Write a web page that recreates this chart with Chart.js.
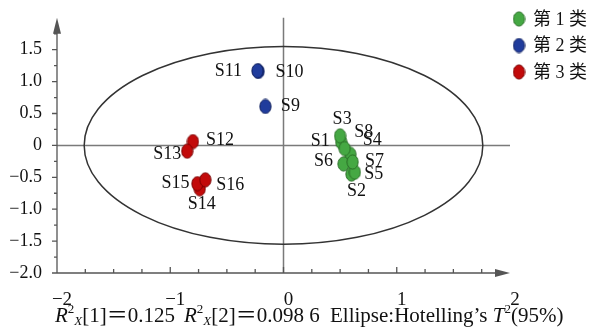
<!DOCTYPE html>
<html>
<head>
<meta charset="utf-8">
<script src="https://cdn.jsdelivr.net/npm/chart.js@4"></script>
<style>
  html, body { margin: 0; padding: 0; background: #fff; }
  #wrap { width: 601px; height: 329px; }
</style>
</head>
<body>
<div id="wrap"><canvas id="pca" width="601" height="329"></canvas></div>
<script>
// score values
const g1Names = ['S1', 'S2', 'S3', 'S4', 'S5', 'S6', 'S7', 'S8'];
const g1X = [0.51, 0.60, 0.50, 0.59, 0.63, 0.53, 0.61, 0.54];
const g1Y = [0.05, -0.45, 0.15, -0.14, -0.42, -0.29, -0.26, -0.05];

const g2Names = ['S9', 'S10', 'S11'];
const g2X = [-0.16, -0.22, -0.23];
const g2Y = [0.61, 1.16, 1.17];

const g3Names = ['S12', 'S13', 'S14', 'S15', 'S16'];
const g3X = [-0.80, -0.85, -0.74, -0.76, -0.69];
const g3Y = [0.06, -0.09, -0.68, -0.60, -0.54];

const groupNames = ['第 1 类', '第 2 类', '第 3 类'];
const xTicks = [-2, -1, 0, 1, 2];
const yTicks = [-2, -1.5, -1, -0.5, 0, 0.5, 1, 1.5];
const ellipseR = [1.76, 1.55];   // Hotelling T2 95% semi-axes

const SERIF = "'Liberation Serif', 'DejaVu Serif', serif";
const CJK = "'Liberation Serif', 'Noto Sans CJK SC', serif";

// label offsets (px) from each point
const labelOffsets = {
  S1: [-21, -1], S2: [5, 17], S3: [2, -17], S4: [22, -14], S5: [19, 2], S6: [-20, -3],
  S7: [22, -1], S8: [19, -16], S9: [25, 0], S10: [31, 1], S11: [-29, 1],
  S12: [27, -1], S13: [-20, 3], S14: [2, 15], S15: [-22, 0], S16: [25, 5]
};

function makeDot(fill, stroke) {
  const c = document.createElement('canvas');
  c.width = 13; c.height = 16;
  const x = c.getContext('2d');
  x.beginPath();
  x.ellipse(6.5, 8, 5.6, 7.1, 0, 0, Math.PI * 2);
  x.fillStyle = fill;
  x.fill();
  x.lineWidth = 1;
  x.strokeStyle = stroke;
  x.stroke();
  return c;
}
const dots = [
  makeDot('#45a843', '#2a6f27'),
  makeDot('#203c9c', '#10205e'),
  makeDot('#c20a0a', '#7a0000')
];

function pts(xs, ys) { return xs.map((v, i) => ({ x: v, y: ys[i] })); }

function drawRich(ctx, x, y, segs) {
  segs.forEach(s => {
    const size = s.small ? 13 : 21;
    ctx.font = (s.i ? 'italic ' : '') + size + 'px ' + (s.cjk ? CJK : SERIF);
    const dy = s.sup ? -9 : (s.sub ? 3 : 0);
    ctx.fillText(s.t, x, y + dy);
    x += ctx.measureText(s.t).width;
  });
}

const decor = {
  id: 'decor',
  beforeDatasetsDraw(chart) {
    const { ctx, scales: { x, y } } = chart;
    const x0 = x.getPixelForValue(0), y0 = y.getPixelForValue(0);
    ctx.save();
    // cross lines at origin
    ctx.strokeStyle = '#7a7a7a';
    ctx.lineWidth = 1.5;
    ctx.beginPath();
    ctx.moveTo(x.left, y0); ctx.lineTo(x.right, y0);
    ctx.moveTo(x0, y.top); ctx.lineTo(x0, y.bottom);
    ctx.stroke();
    // ellipse
    const rx = x.getPixelForValue(ellipseR[0]) - x0;
    const ry = y0 - y.getPixelForValue(ellipseR[1]);
    ctx.strokeStyle = '#333';
    ctx.lineWidth = 1.5;
    ctx.beginPath();
    ctx.ellipse(x0, y0, rx, ry, 0, 0, Math.PI * 2);
    ctx.stroke();

    // axes
    ctx.strokeStyle = '#555';
    ctx.fillStyle = '#555';
    ctx.lineWidth = 1.3;
    ctx.beginPath();
    ctx.moveTo(x.left, y.bottom); ctx.lineTo(x.right - 10, y.bottom);
    ctx.moveTo(x.left, y.bottom); ctx.lineTo(x.left, y.top + 10);
    // y ticks (left side)
    for (let v = -2; v <= 1.76; v += 0.25) {
      const p = y.getPixelForValue(v);
      const major = Math.abs(v * 2 - Math.round(v * 2)) < 1e-6;
      ctx.moveTo(x.left, p); ctx.lineTo(x.left - (major ? 5 : 3), p);
    }
    // x ticks (pointing up)
    for (let v = -1.75; v <= 1.76; v += 0.25) {
      const p = x.getPixelForValue(v);
      const major = Math.abs(v - Math.round(v)) < 1e-6;
      ctx.moveTo(p, y.bottom); ctx.lineTo(p, y.bottom - (major ? 6 : 4));
    }
    ctx.stroke();
    // arrow heads
    ctx.beginPath();
    ctx.moveTo(x.left, y.top);
    ctx.lineTo(x.left - 4, y.top + 16);
    ctx.lineTo(x.left + 4, y.top + 16);
    ctx.closePath();
    ctx.moveTo(x.right, y.bottom);
    ctx.lineTo(x.right - 15, y.bottom - 4);
    ctx.lineTo(x.right - 15, y.bottom + 4);
    ctx.closePath();
    ctx.fill();
    ctx.restore();
  },
  afterDatasetsDraw(chart) {
    const { ctx } = chart;
    const names = [g1Names, g2Names, g3Names];
    ctx.save();
    ctx.font = '18px ' + SERIF;
    ctx.fillStyle = '#111';
    ctx.textAlign = 'center';
    ctx.textBaseline = 'middle';
    chart.data.datasets.forEach((ds, di) => {
      chart.getDatasetMeta(di).data.forEach((el, i) => {
        const n = names[di][i];
        const o = labelOffsets[n] || [0, -14];
        ctx.fillText(n, el.x + o[0], el.y + o[1]);
      });
    });
    ctx.restore();
  },
  afterDraw(chart) {
    const { ctx } = chart;
    ctx.save();
    // legend
    groupNames.forEach((g, i) => {
      const cy = 19 + i * 26.5;
      ctx.drawImage(dots[i], 519 - 6.5, cy - 8);
      ctx.font = '18px ' + CJK;
      ctx.fillStyle = '#111';
      ctx.textBaseline = 'middle';
      ctx.fillText(g, 533, cy + 1);
    });
    // footer text
    ctx.fillStyle = '#111';
    ctx.textBaseline = 'alphabetic';
    const by = 322;
    drawRich(ctx, 55, by, [
      { t: 'R', i: true }, { t: '2', small: true, sup: true }, { t: 'X', i: true, small: true, sub: true },
      { t: '[1]' }, { t: '＝', cjk: true }, { t: '0.125' }
    ]);
    drawRich(ctx, 184, by, [
      { t: 'R', i: true }, { t: '2', small: true, sup: true }, { t: 'X', i: true, small: true, sub: true },
      { t: '[2]' }, { t: '＝', cjk: true }, { t: '0.098 6' }
    ]);
    drawRich(ctx, 330, by, [
      { t: 'Ellipse:Hotelling’s ' }, { t: 'T', i: true }, { t: '2', small: true, sup: true }, { t: '(95%)' }
    ]);
    ctx.restore();
  }
};

new Chart(document.getElementById('pca'), {
  type: 'scatter',
  data: {
    datasets: [
      { label: groupNames[0], data: pts(g1X, g1Y), pointStyle: dots[0] },
      { label: groupNames[1], data: pts(g2X, g2Y), pointStyle: dots[1] },
      { label: groupNames[2], data: pts(g3X, g3Y), pointStyle: dots[2] }
    ]
  },
  options: {
    responsive: false,
    animation: false,
    events: [],
    layout: { padding: { top: 13, right: 91, left: 0, bottom: 0 } },
    plugins: { legend: { display: false }, tooltip: { enabled: false } },
    scales: {
      x: {
        type: 'linear', min: -2, max: 2,
        grid: { display: false }, border: { display: false },
        afterBuildTicks: s => { s.ticks = xTicks.map(v => ({ value: v })); },
        afterFit: s => { s.height = 56; },
        ticks: {
          padding: 8, labelOffset: 5, color: '#111', maxRotation: 0,
          font: { family: SERIF, size: 19 },
          callback: v => (v < 0 ? '\u2212' : '') + Math.abs(v)
        }
      },
      y: {
        type: 'linear', min: -2, max: 2,
        grid: { display: false }, border: { display: false },
        afterBuildTicks: s => { s.ticks = yTicks.map(v => ({ value: v })); },
        afterFit: s => { s.width = 57; },
        ticks: {
          padding: 7, color: '#111',
          font: { family: SERIF, size: 18 },
          callback: v => v === 0 ? '0' : (v < 0 ? '\u2212' : '') + Math.abs(v).toFixed(1)
        }
      }
    }
  },
  plugins: [decor]
});
</script>
</body>
</html>
